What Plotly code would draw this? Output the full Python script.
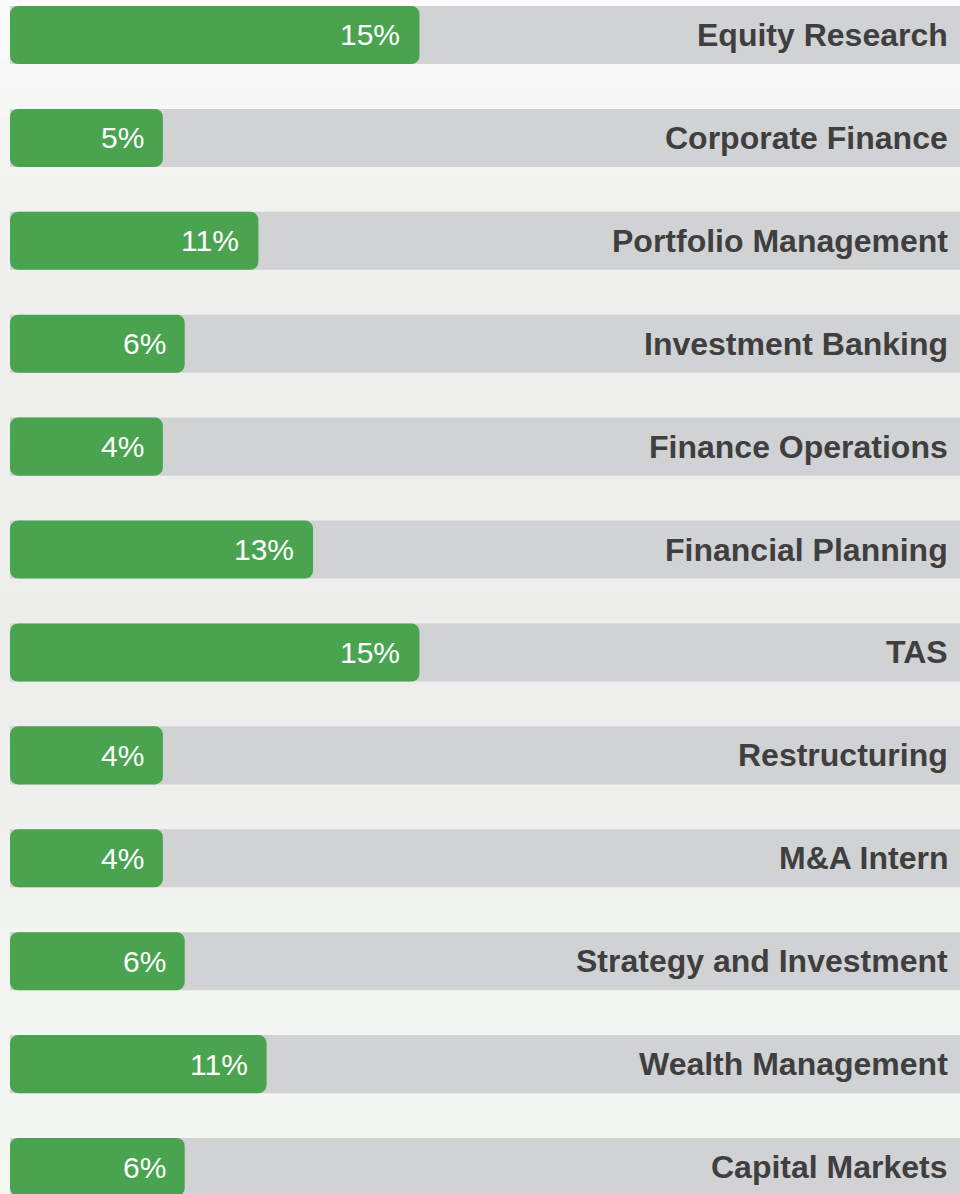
import plotly.graph_objects as go

# ---- data ----
roles = [
    "Equity Research", "Corporate Finance", "Portfolio Management",
    "Investment Banking", "Finance Operations", "Financial Planning",
    "TAS", "Restructuring", "M&A Intern", "Strategy and Investment",
    "Wealth Management", "Capital Markets",
]
# drawn bar lengths (the source stretches small bars a bit, so not = label)
bar_lengths = [15.0, 5.6, 9.1, 6.4, 5.6, 11.1, 15.0, 5.6, 5.6, 6.4, 9.4, 6.4]
pct_labels = ["15%", "5%", "11%", "6%", "4%", "13%", "15%", "4%", "4%", "6%", "11%", "6%"]
track_length = 40.0

GREEN = "#49a34f"
TRACK = "#d1d2d4"
LABEL = "#3f3f3f"
FONT = "Liberation Sans, Arial, sans-serif"
RADIUS = 8

fig = go.Figure()

# grey track behind every row
fig.add_trace(go.Bar(
    y=roles, x=[track_length] * len(roles), orientation="h",
    marker=dict(color=TRACK, line=dict(width=0), cornerradius=RADIUS),
    hoverinfo="skip", showlegend=False,
))

# explicit base makes plotly treat these as floating bars, so both ends
# get rounded corners like the reference pills
fig.add_trace(go.Bar(
    y=roles, x=bar_lengths, base=[0] * len(roles), orientation="h",
    marker=dict(color=GREEN, line=dict(width=0), cornerradius=RADIUS),
    customdata=pct_labels,
    hovertemplate="%{y}: %{customdata}<extra></extra>",
    showlegend=False,
))

annotations = []
for role, length, pct in zip(roles, bar_lengths, pct_labels):
    annotations.append(dict(
        x=length, y=role, xref="x", yref="y", text=pct,
        xanchor="right", yanchor="middle", xshift=-17, showarrow=False,
        font=dict(family=FONT, size=30, color="white"),
    ))
    annotations.append(dict(
        x=1, y=role, xref="paper", yref="y", text=f"<b>{role}</b>",
        xanchor="right", yanchor="middle", xshift=-10, showarrow=False,
        font=dict(family=FONT, size=32, color=LABEL),
    ))

# soft washed-out background (stand-in for the faded photo)
bg_stops = [
    (0.00, (252, 252, 252)),
    (0.20, (240, 240, 239)),
    (0.55, (237, 237, 236)),
    (0.80, (242, 244, 240)),
    (1.00, (245, 248, 241)),
]
shapes = []
n_bands = 40
for i in range(n_bands):
    t = (i + 0.5) / n_bands
    for (t0, c0), (t1, c1) in zip(bg_stops[:-1], bg_stops[1:]):
        if t0 <= t <= t1:
            f = (t - t0) / (t1 - t0)
            c = tuple(round(a + (b - a) * f) for a, b in zip(c0, c1))
            break
    shapes.append(dict(
        type="rect", xref="paper", yref="paper", layer="below",
        x0=-0.05, x1=1.05, y0=1 - (i + 1) / n_bands - 0.002, y1=1 - i / n_bands + 0.002,
        fillcolor=f"rgb{c}", line=dict(width=0),
    ))

fig.update_layout(
    width=960, height=1194,
    margin=dict(l=10, r=0, t=0, b=0),
    barmode="overlay", bargap=0.436,
    paper_bgcolor="rgb(252,252,252)", plot_bgcolor="rgba(0,0,0,0)",
    annotations=annotations, shapes=shapes,
    font=dict(family=FONT),
)
fig.update_xaxes(range=[0, 34.8], visible=False, fixedrange=True)
fig.update_yaxes(
    categoryorder="array", categoryarray=roles,
    range=[11.262, -0.340], visible=False, fixedrange=True,
)

# page body has an 8px default margin; drop it so the figure sits at 0,0
fig.write_html(
    "out.html",
    config={"displayModeBar": False},
    post_script="document.body.style.margin='0';",
)
